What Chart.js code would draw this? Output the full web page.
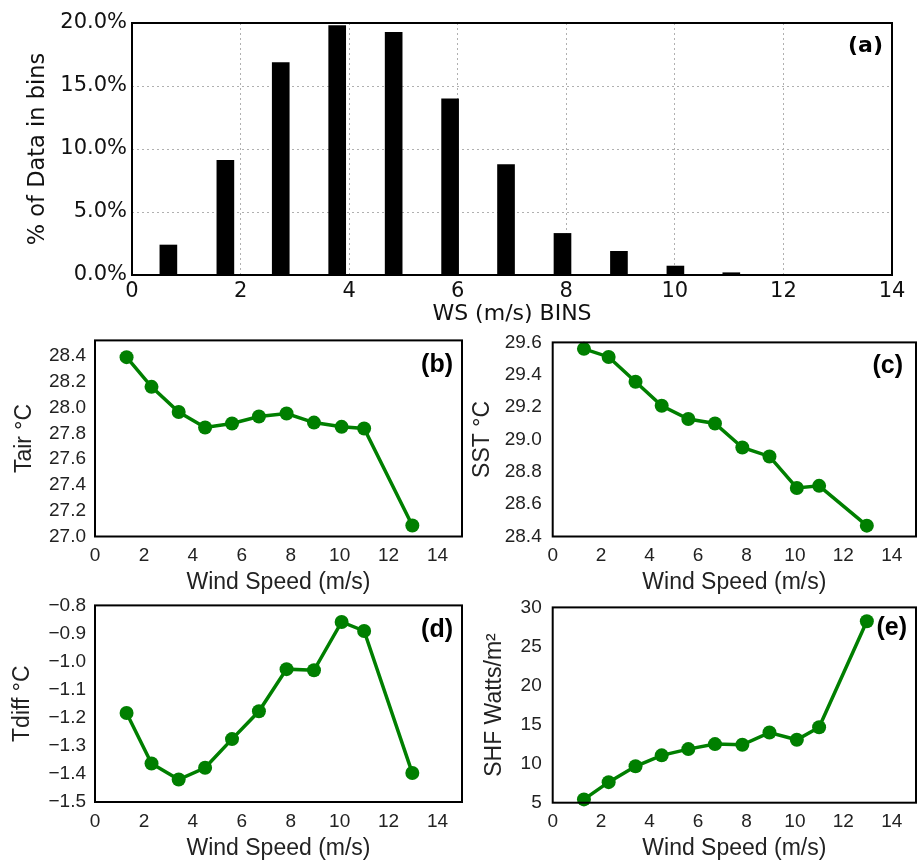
<!DOCTYPE html>
<html>
<head>
<meta charset="utf-8">
<title>Wind speed bins</title>
<script src="https://cdn.jsdelivr.net/npm/chart.js@4/dist/chart.umd.min.js"></script>
<style>
  body { margin: 0; background: #fff; }
  #page { position: relative; width: 923px; height: 862px; overflow: hidden; }
  #page canvas { position: absolute; }
</style>
</head>
<body>
<div id="page">
  <canvas id="chartA" width="923" height="330" style="left:0;top:0"></canvas>
  <canvas id="chartB" width="470" height="280" style="left:0;top:320px"></canvas>
  <canvas id="chartC" width="463" height="280" style="left:460px;top:320px"></canvas>
  <canvas id="chartD" width="470" height="277" style="left:0;top:585px"></canvas>
  <canvas id="chartE" width="463" height="277" style="left:460px;top:585px"></canvas>
</div>
<script>
// histogram of wind speed bins (% of data)
const binCenters = [0.67, 1.72, 2.74, 3.78, 4.82, 5.86, 6.89, 7.93, 8.97, 10.01, 11.04];
const binPercent = [2.38, 9.11, 16.86, 19.8, 19.26, 13.98, 8.77, 3.30, 1.88, 0.71, 0.18];

// mean wind speed per bin and bin-averaged quantities
const windSpeed = [1.29, 2.31, 3.42, 4.50, 5.60, 6.70, 7.83, 8.95, 10.08, 11.0, 12.97];
const tair  = [28.39, 28.16, 27.965, 27.845, 27.876, 27.93, 27.953, 27.883, 27.85, 27.837, 27.085];
const sst   = [29.56, 29.51, 29.357, 29.208, 29.126, 29.099, 28.95, 28.895, 28.70, 28.713, 28.467];
const tdiff = [-1.183, -1.363, -1.420, -1.378, -1.276, -1.177, -1.027, -1.031, -0.859, -0.891, -1.397];
const shf   = [5.42, 7.63, 9.66, 11.06, 11.86, 12.5, 12.42, 13.98, 13.05, 14.66, 28.22];

const GREEN = '#007f00';

// black frame round the plot area plus the panel letter
const framePlugin = {
  id: 'frame',
  afterDraw(chart, args, opts) {
    const { ctx, chartArea: a } = chart;
    ctx.save();
    ctx.lineWidth = 2;
    ctx.strokeStyle = '#000';
    ctx.strokeRect(a.left, a.top, a.right - a.left, a.bottom - a.top);
    ctx.fillStyle = '#000';
    ctx.font = opts.font;
    ctx.textAlign = 'right';
    ctx.textBaseline = 'middle';
    ctx.fillText(opts.label, a.right - opts.dx, a.top + opts.dy);
    ctx.restore();
  }
};
Chart.register(framePlugin);

// histogram panel
new Chart(document.getElementById('chartA'), {
  type: 'bar',
  data: {
    datasets: [{
      data: binCenters.map((x, i) => ({ x: x, y: binPercent[i] })),
      backgroundColor: '#000',
      borderWidth: 0,
      barThickness: 17
    }]
  },
  options: {
    responsive: false,
    animation: false,
    layout: { padding: { left: 0, right: 31, top: 23, bottom: 0 } },
    plugins: {
      legend: { display: false },
      tooltip: { enabled: false },
      frame: { label: '(a)', font: 'bold 22px "DejaVu Sans"', dx: 9, dy: 23 }
    },
    scales: {
      x: {
        type: 'linear',
        min: 0, max: 14,
        offset: false,
        grid: { offset: false, color: '#b0b0b0', drawTicks: false },
        border: { display: false, dash: [2, 3] },
        ticks: { stepSize: 2, padding: 4, color: '#111', font: { family: 'DejaVu Sans', size: 21 } },
        title: { display: true, text: 'WS (m/s) BINS', color: '#111', padding: { top: 0, bottom: 3 },
                 font: { family: 'DejaVu Sans', size: 22 } },
        afterFit(s) { s.height = 55; }
      },
      y: {
        min: 0, max: 20,
        grid: { color: '#b0b0b0', drawTicks: false },
        border: { display: false, dash: [2, 3] },
        ticks: { stepSize: 5, padding: 5, color: '#111', font: { family: 'DejaVu Sans', size: 21 },
                 callback: v => v.toFixed(1) + '%' },
        title: { display: true, text: '% of Data in bins', color: '#111', padding: { top: 25, bottom: 0 },
                 font: { family: 'DejaVu Sans', size: 22.5 } },
        afterFit(s) { s.width = 132; }
      }
    }
  }
});

// line panels share one layout recipe
function linePanel(id, values, p) {
  new Chart(document.getElementById(id), {
    type: 'line',
    data: {
      datasets: [{
        data: windSpeed.map((x, i) => ({ x: x, y: values[i] })),
        borderColor: GREEN,
        backgroundColor: GREEN,
        borderWidth: 3.5,
        pointRadius: 7,
        pointBorderWidth: 0,
        tension: 0,
        clip: false
      }]
    },
    options: {
      responsive: false,
      animation: false,
      layout: { padding: { left: 0, right: p.right, top: p.top, bottom: 0 } },
      plugins: {
        legend: { display: false },
        tooltip: { enabled: false },
        frame: { label: p.label, font: 'bold 25px "Liberation Sans"', dx: p.dx, dy: p.dy }
      },
      scales: {
        x: {
          type: 'linear',
          min: 0, max: 15,
          grid: { display: false, drawTicks: false },
          border: { display: false },
          ticks: { stepSize: 2, includeBounds: false, padding: 8, color: '#222',
                   font: { family: 'Liberation Sans', size: 19 } },
          title: { display: true, text: 'Wind Speed (m/s)', color: '#222', padding: { top: 0, bottom: p.xtPad },
                   font: { family: 'Liberation Sans', size: 23 } },
          afterFit(s) { s.height = p.xh; }
        },
        y: {
          min: p.min, max: p.max,
          grid: { display: false, drawTicks: false },
          border: { display: false },
          ticks: { stepSize: p.step, includeBounds: false, padding: p.tickPad, color: '#222',
                   font: { family: 'Liberation Sans', size: 19 },
                   callback: v => v.toFixed(p.dec).replace('-', '\u2212') },
          title: { display: true, text: p.title, color: '#222', padding: { top: p.ytPad, bottom: 0 },
                   font: { family: 'Liberation Sans', size: 23 } },
          afterFit(s) { s.width = p.yw; }
        }
      }
    }
  });
}

linePanel('chartB', tair, { label: '(b)', title: 'Tair \u00b0C', min: 27.0, max: 28.52, step: 0.2, dec: 1,
  right: 8, top: 18, xh: 63.5, yw: 95, ytPad: 11, xtPad: 4, tickPad: 9, dx: 9, dy: 25 });
linePanel('chartC', sst, { label: '(c)', title: 'SST \u00b0C', min: 28.4, max: 29.6, step: 0.2, dec: 1,
  right: 2, top: 19, xh: 63.5, yw: 92.7, ytPad: 9, xtPad: 4, tickPad: 11, dx: 13, dy: 24 });
linePanel('chartD', tdiff, { label: '(d)', title: 'Tdiff \u00b0C', min: -1.5, max: -0.8, step: 0.1, dec: 1,
  right: 8, top: 20, xh: 60, yw: 95, ytPad: 9, xtPad: 0, tickPad: 9, dx: 9, dy: 25 });
linePanel('chartE', shf, { label: '(e)', title: 'SHF Watts/m\u00b2', min: 5, max: 30, step: 5, dec: 0,
  right: 1.3, top: 20, xh: 59.3, yw: 92.7, ytPad: 21, xtPad: 0, tickPad: 11, dx: 9, dy: 21 });
</script>
</body>
</html>
